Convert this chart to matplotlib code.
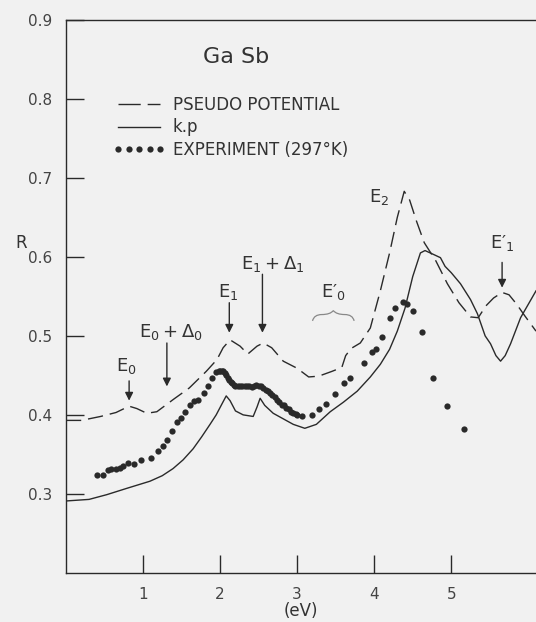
import matplotlib.pyplot as plt
from matplotlib.path import Path
from matplotlib.patches import PathPatch
from matplotlib.lines import Line2D

# pseudo potential (dashed)
x_pp = [0.0, 0.2, 0.45, 0.65, 0.82, 0.92, 1.05, 1.18, 1.4, 1.6, 1.82, 1.96, 2.04, 2.13,
        2.26, 2.36, 2.48, 2.56, 2.67, 2.82, 3.0, 3.15, 3.28, 3.45, 3.58, 3.63, 3.7, 3.82,
        3.95, 4.08, 4.2, 4.3, 4.39, 4.46, 4.55, 4.65, 4.8, 4.95, 5.1, 5.25, 5.35, 5.45,
        5.55, 5.66, 5.75, 5.85, 5.95, 6.1]
y_pp = [0.393, 0.393, 0.398, 0.403, 0.411, 0.408, 0.402, 0.404, 0.420, 0.434, 0.455, 0.470,
        0.485, 0.495, 0.487, 0.477, 0.487, 0.491, 0.485, 0.468, 0.459, 0.448, 0.449, 0.455,
        0.460, 0.475, 0.484, 0.491, 0.510, 0.557, 0.605, 0.650, 0.683, 0.672, 0.645, 0.618,
        0.595, 0.566, 0.542, 0.524, 0.523, 0.538, 0.548, 0.555, 0.552, 0.540, 0.526, 0.506]

# k.p (solid)
x_kp = [0.0, 0.3, 0.53, 0.79, 1.09, 1.25, 1.39, 1.52, 1.65, 1.76, 1.87, 1.95, 2.02, 2.08,
        2.13, 2.2, 2.3, 2.43, 2.48, 2.52, 2.58, 2.69, 2.82, 2.95, 3.1, 3.25, 3.43, 3.6,
        3.78, 3.95, 4.08, 4.2, 4.3, 4.4, 4.5, 4.6, 4.66, 4.75, 4.86, 4.92, 5.0, 5.12,
        5.25, 5.34, 5.44, 5.51, 5.58, 5.64, 5.7, 5.77, 5.9, 6.0, 6.1]
y_kp = [0.291, 0.293, 0.299, 0.307, 0.316, 0.323, 0.332, 0.343, 0.357, 0.372, 0.388, 0.400,
        0.413, 0.424, 0.418, 0.405, 0.400, 0.398, 0.410, 0.421, 0.412, 0.402, 0.395, 0.388,
        0.383, 0.388, 0.404, 0.416, 0.430, 0.448, 0.464, 0.483, 0.506, 0.535, 0.575, 0.605,
        0.608, 0.604, 0.599, 0.588, 0.580, 0.566, 0.546, 0.528, 0.500, 0.490, 0.475, 0.468,
        0.475, 0.490, 0.523, 0.540, 0.557]

# experiment (297 K)
x_exp = [0.40, 0.48, 0.55, 0.59, 0.65, 0.70, 0.74, 0.81, 0.88, 0.97, 1.10, 1.20, 1.26,
         1.31, 1.37, 1.44, 1.49, 1.55, 1.61, 1.66, 1.72, 1.79, 1.85, 1.90, 1.95,
         1.98, 2.00, 2.02, 2.04, 2.06, 2.08, 2.10, 2.12, 2.14, 2.16, 2.18, 2.20, 2.23,
         2.26, 2.29, 2.32, 2.35, 2.38, 2.41, 2.44, 2.47, 2.50, 2.53, 2.56, 2.59, 2.62,
         2.65, 2.68, 2.71, 2.74, 2.77, 2.80, 2.83, 2.86, 2.89, 2.92, 2.95, 2.98, 3.00,
         3.06, 3.19, 3.28, 3.38, 3.49, 3.61, 3.69, 3.87, 3.97, 4.03, 4.10, 4.21, 4.27,
         4.37, 4.42, 4.50, 4.62, 4.76, 4.94, 5.16]
y_exp = [0.324, 0.324, 0.330, 0.332, 0.332, 0.333, 0.335, 0.339, 0.338, 0.343, 0.345, 0.354,
         0.360, 0.368, 0.379, 0.391, 0.396, 0.404, 0.413, 0.418, 0.419, 0.428, 0.436,
         0.447, 0.454, 0.455, 0.456, 0.455, 0.456, 0.453, 0.450, 0.447, 0.444, 0.441,
         0.440, 0.438, 0.437, 0.437, 0.436, 0.437, 0.436, 0.436, 0.437, 0.435, 0.437,
         0.438, 0.436, 0.436, 0.434, 0.432, 0.430, 0.428, 0.425, 0.422, 0.419, 0.416,
         0.413, 0.412, 0.409, 0.407, 0.404, 0.402, 0.401, 0.400, 0.398, 0.400, 0.407,
         0.414, 0.426, 0.440, 0.447, 0.466, 0.479, 0.483, 0.498, 0.523, 0.535, 0.543,
         0.540, 0.532, 0.505, 0.447, 0.411, 0.382]

x_ticks = [1, 2, 3, 4, 5]
y_ticks = [0.3, 0.4, 0.5, 0.6, 0.7, 0.8, 0.9]

ink = '#2a2a2a'
bg = '#f1f1f1'

plt.rcParams['font.family'] = ['DejaVu Sans']
plt.rcParams['mathtext.fontset'] = 'dejavusans'

fig = plt.figure(figsize=(5.36, 6.22), dpi=100, facecolor=bg)
ax = fig.add_axes([0.123, 0.079, 0.877, 0.889], facecolor=bg)

ax.plot(x_pp, y_pp, color=ink, lw=1.0, linestyle=(0, (11, 5)))
ax.plot(x_kp, y_kp, color=ink, lw=1.0)
ax.plot(x_exp, y_exp, linestyle='none', marker='o', ms=4.5, color=ink, mec='none')

ax.set_xlim(0, 6.1)
ax.set_ylim(0.2, 0.9)
ax.spines['right'].set_visible(False)
for s in ['left', 'bottom', 'top']:
    ax.spines[s].set_color(ink)
    ax.spines[s].set_linewidth(1.0)

ax.set_xticks(x_ticks)
ax.set_xticklabels([str(t) for t in x_ticks])
ax.set_yticks(y_ticks)
ax.set_yticklabels(['0.3', '0.4', '0.5', '0.6', '0.7', '0.8', '0.9'])
ax.tick_params(direction='in', length=13, width=1.0, color=ink, labelcolor='#444444',
               labelsize=11)
ax.tick_params(axis='x', pad=10)
ax.tick_params(axis='y', pad=10)

ax.set_xlabel('(eV)', fontsize=12, color='#333333', labelpad=0)
ax.set_ylabel('R', fontsize=12, color='#333333', rotation=0, va='center', ha='center')
ax.yaxis.set_label_coords(-0.095, 0.597)

# legend
handles = [Line2D([], [], color=ink, lw=1.0, linestyle=(0, (16, 5))),
           Line2D([], [], color=ink, lw=1.0),
           Line2D([], [], color=ink, linestyle='none', marker='o', ms=4.5, mec='none')]
labels = ['PSEUDO POTENTIAL', 'k.p', 'EXPERIMENT (297\u00b0K)']
leg = ax.legend(handles, labels, loc='upper left', bbox_to_anchor=(0.087, 0.875),
                frameon=False, fontsize=12, handlelength=3.1, handletextpad=0.45,
                labelspacing=0.28, numpoints=5, borderaxespad=0)
for t in leg.get_texts():
    t.set_color('#333333')

ax.text(2.21, 0.853, 'Ga Sb', fontsize=16, color='#333333', ha='center', va='center')

txt = dict(fontsize=13, color='#333333', ha='center', va='center')
arw = dict(arrowstyle='-|>', color=ink, lw=1.0, mutation_scale=12, shrinkA=0, shrinkB=0)

ax.text(0.78, 0.462, r'$\mathregular{E_0}$', **txt)
ax.annotate('', xy=(0.82, 0.418), xytext=(0.82, 0.443), arrowprops=arw)

ax.text(1.36, 0.505, r'$\mathregular{E_0 + \Delta_0}$', **txt)
ax.annotate('', xy=(1.31, 0.436), xytext=(1.31, 0.491), arrowprops=arw)

ax.text(2.10, 0.556, r'$\mathregular{E_1}$', **txt)
ax.annotate('', xy=(2.12, 0.504), xytext=(2.12, 0.542), arrowprops=arw)

ax.text(2.68, 0.591, r'$\mathregular{E_1 + \Delta_1}$', **txt)
ax.annotate('', xy=(2.55, 0.504), xytext=(2.55, 0.578), arrowprops=arw)

ax.text(3.47, 0.556, '$\\mathregular{E\u2032_0}$', **txt)
brace = Path([(3.20, 0.519), (3.22, 0.527), (3.32, 0.527), (3.43, 0.527), (3.47, 0.532),
              (3.51, 0.527), (3.62, 0.527), (3.72, 0.527), (3.74, 0.519)],
             [Path.MOVETO, Path.CURVE3, Path.CURVE3, Path.CURVE3, Path.CURVE3,
              Path.CURVE3, Path.CURVE3, Path.CURVE3, Path.CURVE3])
ax.add_patch(PathPatch(brace, fill=False, color='#888888', lw=0.9))

ax.text(4.06, 0.676, r'$\mathregular{E_2}$', **txt)

ax.text(5.66, 0.618, '$\\mathregular{E\u2032_1}$', **txt)
ax.annotate('', xy=(5.66, 0.561), xytext=(5.66, 0.593), arrowprops=arw)

fig.savefig('out.png', dpi=100, facecolor=bg)
